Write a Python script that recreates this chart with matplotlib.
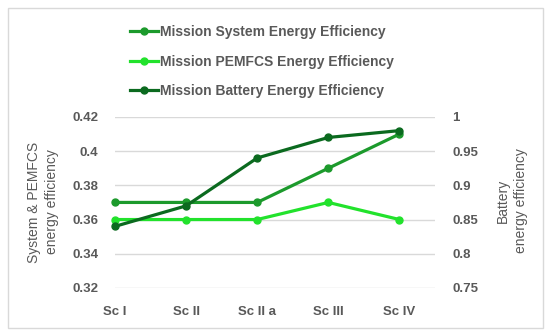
import matplotlib
matplotlib.use("Agg")
import matplotlib.pyplot as plt
from matplotlib.patches import Rectangle

# data
scenarios = ["Sc I", "Sc II", "Sc II a", "Sc III", "Sc IV"]
system_eff = [0.37, 0.37, 0.37, 0.39, 0.41]
pemfcs_eff = [0.36, 0.36, 0.36, 0.37, 0.36]
battery_eff = [0.84, 0.87, 0.94, 0.97, 0.98]

c_system = "#1c9a2c"
c_pemfcs = "#22e22c"
c_battery = "#0b6a1f"
txt = "#595959"

plt.rcParams["font.family"] = ["Liberation Sans", "DejaVu Sans"]

fig = plt.figure(figsize=(5.5, 3.36), dpi=100)
ax = fig.add_axes([0.209, 0.143, 0.582, 0.509])
ax2 = ax.twinx()

x = range(len(scenarios))
l1, = ax.plot(x, system_eff, color=c_system, lw=2.3, marker="o", ms=5,
              label="Mission System Energy Efficiency", zorder=3, clip_on=False)
l2, = ax.plot(x, pemfcs_eff, color=c_pemfcs, lw=2.3, marker="o", ms=5,
              label="Mission PEMFCS Energy Efficiency", zorder=3, clip_on=False)
l3, = ax2.plot(x, battery_eff, color=c_battery, lw=2.3, marker="o", ms=5,
               label="Mission Battery Energy Efficiency", zorder=3, clip_on=False)

ax.set_xlim(0, 4.5)
ax.set_ylim(0.32, 0.42)
ax.set_yticks([0.32, 0.34, 0.36, 0.38, 0.40, 0.42])
ax.set_yticklabels(["0.32", "0.34", "0.36", "0.38", "0.4", "0.42"])
ax2.set_ylim(0.75, 1.0)
ax2.set_yticks([0.75, 0.8, 0.85, 0.9, 0.95, 1.0])
ax2.set_yticklabels(["0.75", "0.8", "0.85", "0.9", "0.95", "1"])
ax.set_xticks(list(x))
ax.set_xticklabels(scenarios)

ax.grid(axis="y", color="#d9d9d9", lw=1)
ax.set_axisbelow(True)
for a in (ax, ax2):
    for s in a.spines.values():
        s.set_visible(False)
    a.tick_params(length=0, colors=txt, labelsize=9.5)
    for lab in a.get_xticklabels() + a.get_yticklabels():
        lab.set_fontweight("bold")
ax.tick_params(axis="y", pad=12)
ax2.tick_params(axis="y", pad=12.5)
ax.tick_params(axis="x", pad=13)

# axis titles placed by hand (two lines each, rotated)
fig.text(43 / 550, 1 - 202 / 336, "System & PEMFCS\nenergy efficiency",
         rotation=90, ha="center", va="center", color=txt, fontsize=10,
         linespacing=1.35)
fig.text(512 / 550, 1 - 201 / 336, "Battery\nenergy efficiency",
         rotation=90, ha="center", va="center", color=txt, fontsize=10,
         linespacing=1.35)

fig.legend(handles=[l1, l2, l3], loc="upper center", bbox_to_anchor=(0.477, 0.962),
           ncol=1, frameon=False, handlelength=2.0, handletextpad=0.15,
           labelspacing=1.1, prop={"size": 10, "weight": "bold"},
           labelcolor=txt)

fig.patches.append(Rectangle((8 / 550, 8 / 336), 535 / 550, 320 / 336,
                             transform=fig.transFigure, fill=False,
                             edgecolor="#d9d9d9", lw=1))

fig.savefig("out.png", dpi=100)
